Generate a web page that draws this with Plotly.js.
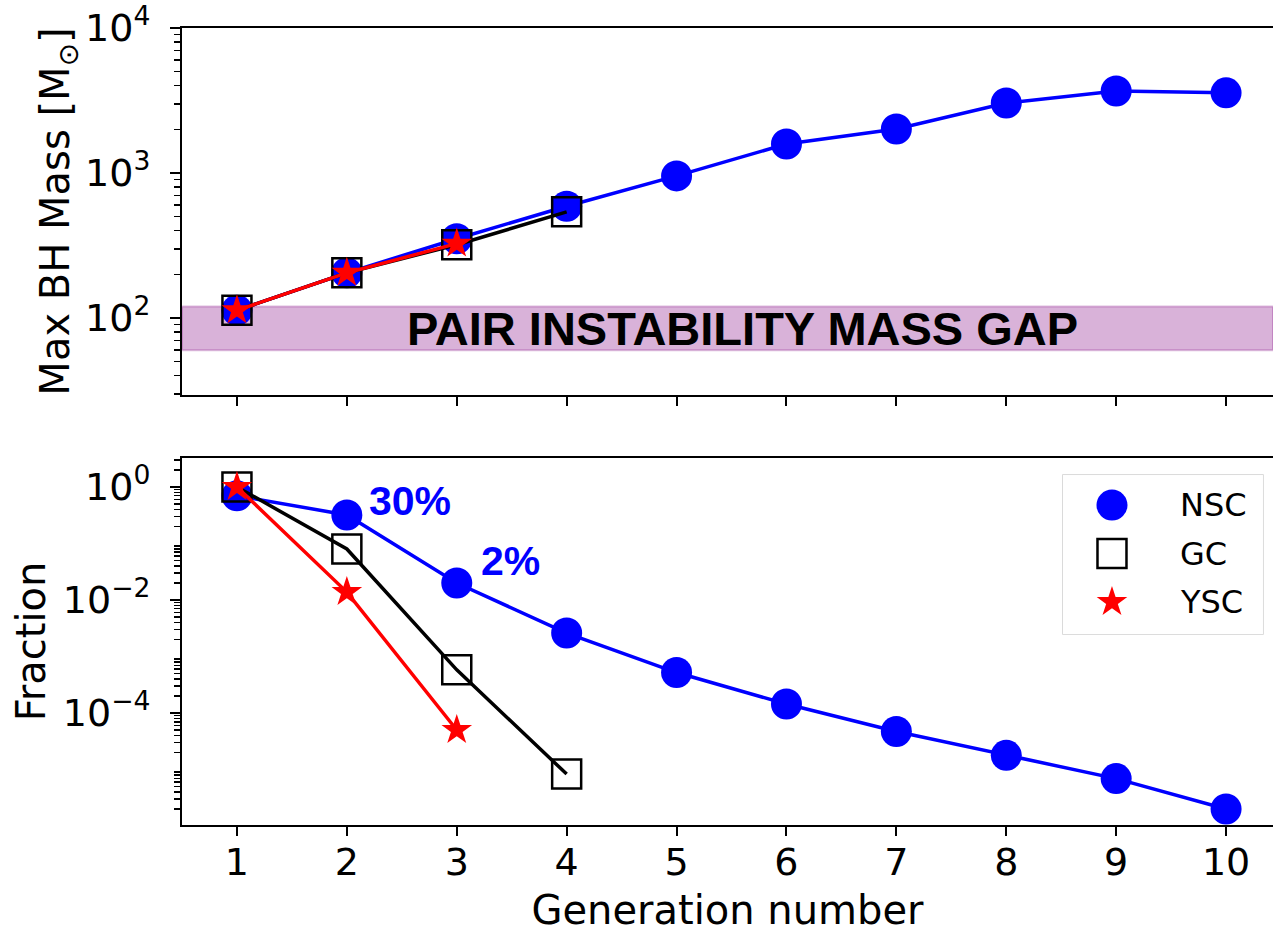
<!DOCTYPE html>
<html>
<head>
<meta charset="utf-8">
<script src="https://cdn.plot.ly/plotly-3.0.1.min.js"></script>
<style>html,body{margin:0;padding:0;background:#fff;}#chart{width:1273px;height:933px;}</style>
</head>
<body>
<div id="chart"></div>
<script>
// ---- data ----
const generations = [1, 2, 3, 4, 5, 6, 7, 8, 9, 10];
const nscMass = [113, 205, 352, 590, 955, 1585, 2010, 3040, 3680, 3570];
const gcMass  = [113, 205, 320, 540];
const yscMass = [113, 205, 326];
const nscFrac = [0.70, 0.32, 0.020, 0.0026, 5.2e-4, 1.44e-4, 4.7e-5, 1.78e-5, 6.9e-6, 2.0e-6];
const gcFrac  = [1.0, 0.080, 5.8e-4, 8.3e-6];
const yscFrac = [1.0, 0.0138, 5.0e-5];
const seriesNames = ['NSC', 'GC', 'YSC'];
const gapLow = 60, gapHigh = 120;
const gapLabel = 'PAIR INSTABILITY MASS GAP';
const fracLabels = ['30%', '2%'];
const massTickVals = [1e2, 1e3, 1e4];
const massTickText = ['10<sup>2</sup>', '10<sup>3</sup>', '10<sup>4</sup>'];
const fracTickVals = [1, 1e-2, 1e-4];
const fracTickText = ['10<sup>0</sup>', '10<sup>−2</sup>', '10<sup>−4</sup>'];

// minor log ticks (2..9 x decade)
function minorTicks(d0, d1) {
  const out = [];
  for (let d = d0; d <= d1; d++) for (let m = 2; m <= 9; m++) out.push(m * Math.pow(10, d));
  return out;
}

const tickFont = {family: 'DejaVu Sans', size: 38, color: '#000'};
const titleFont = {family: 'DejaVu Sans', size: 40, color: '#000'};

const styles = {
  NSC: {line: {color: '#0000ff', width: 3.5}, marker: {symbol: 'circle', size: 31, color: '#0000ff'}},
  GC:  {line: {color: '#000000', width: 3.5}, marker: {symbol: 'square-open', size: 29, color: '#000000', line: {width: 2.5, color: '#000'}}},
  YSC: {line: {color: '#ff0000', width: 3.5}, marker: {symbol: 'star', size: 23, color: '#ff0000', line: {width: 0}}}
};

function tr(name, x, y, xa, ya) {
  return {type: 'scatter', mode: 'lines+markers', name: name, x: x, y: y, xaxis: xa, yaxis: ya,
          line: styles[name].line, marker: styles[name].marker, showlegend: false, cliponaxis: false};
}

const data = [
  tr('NSC', generations, nscMass, 'x2', 'y2'),
  tr('GC', generations.slice(0, gcMass.length), gcMass, 'x2', 'y2'),
  tr('YSC', generations.slice(0, yscMass.length), yscMass, 'x2', 'y2'),
  tr('NSC', generations, nscFrac, 'x', 'y'),
  tr('GC', generations.slice(0, gcFrac.length), gcFrac, 'x', 'y'),
  tr('YSC', generations.slice(0, yscFrac.length), yscFrac, 'x', 'y')
];

// custom legend (markers as in the reference legend)
seriesNames.forEach(n => {
  data.push({type: 'scatter', mode: 'markers', x: [0.245], y: [n], xaxis: 'x3', yaxis: 'y3',
             marker: styles[n].marker, showlegend: false, hoverinfo: 'skip'});
});

const xCommon = {
  range: [0.5, 10.427], tickmode: 'array', tickvals: generations, ticks: 'outside', ticklen: 9,
  tickwidth: 2, tickcolor: '#000', showline: true, linecolor: '#000', linewidth: 2, mirror: true,
  showgrid: false, zeroline: false, tickfont: tickFont, ticklabelstandoff: -7
};

const layout = {
  width: 1273, height: 933,
  margin: {l: 182, r: 0, t: 28, b: 108},
  paper_bgcolor: '#fff', plot_bgcolor: '#fff',
  showlegend: false,
  xaxis: Object.assign({}, xCommon, {domain: [0, 1], anchor: 'y',
    title: {text: 'Generation number', font: titleFont, standoff: 14}}),
  xaxis2: Object.assign({}, xCommon, {domain: [0, 1], anchor: 'y2', matches: 'x', showticklabels: false}),
  yaxis: {
    domain: [0, 0.4605], anchor: 'x', type: 'log', range: [-5.982, 0.513],
    tickmode: 'array', tickvals: fracTickVals, ticktext: fracTickText,
    ticks: 'outside', ticklen: 10, tickwidth: 2, tickcolor: '#000',
    minor: {tickmode: 'array', tickvals: minorTicks(-7, 0), ticks: 'outside', ticklen: 6, tickwidth: 1.5, tickcolor: '#000'},
    showline: true, linecolor: '#000', linewidth: 2, mirror: false, showgrid: false, zeroline: false,
    tickfont: tickFont, ticklabelstandoff: 12,
    title: {text: 'Fraction', font: titleFont, standoff: 5}
  },
  yaxis2: {
    domain: [0.5395, 1], anchor: 'x2', type: 'log', range: [1.469, 4],
    tickmode: 'array', tickvals: massTickVals, ticktext: massTickText,
    ticks: 'outside', ticklen: 10, tickwidth: 2, tickcolor: '#000',
    minor: {tickmode: 'array', tickvals: minorTicks(1, 3), ticks: 'outside', ticklen: 6, tickwidth: 1.5, tickcolor: '#000'},
    showline: true, linecolor: '#000', linewidth: 2, mirror: false, showgrid: false, zeroline: false,
    tickfont: tickFont, ticklabelstandoff: 12,
    title: {text: 'Max BH Mass [M<sub>⊙</sub>]', font: titleFont, standoff: 3}
  },
  xaxis3: {domain: [0.8075, 0.9908], anchor: 'y3', range: [0, 1], visible: false, fixedrange: true},
  yaxis3: {domain: [0.2396, 0.4391], anchor: 'x3', type: 'category', categoryarray: seriesNames,
           range: [2.66, -0.62], visible: false, fixedrange: true},
  shapes: [
    {type: 'rect', xref: 'x2 domain', x0: 0, x1: 1, yref: 'y2', y0: gapLow, y1: gapHigh,
     fillcolor: 'rgba(128,0,128,0.3)', line: {color: 'rgba(128,0,128,0.25)', width: 2}, layer: 'below'},
    {type: 'rect', xref: 'x3 domain', x0: 0, x1: 1, yref: 'y3 domain', y0: 0, y1: 1,
     fillcolor: 'rgba(255,255,255,0.8)', line: {color: '#d0d0d0', width: 1.5}, layer: 'below'}
  ],
  annotations: [
    {xref: 'x2', yref: 'y2', x: 5.604, y: Math.log10(Math.sqrt(gapLow * gapHigh)), text: gapLabel,
     showarrow: false, font: {family: 'Liberation Sans', size: 47, color: '#000', weight: 'bold'}},
    {xref: 'x', yref: 'y', x: 2.574, y: -0.248, text: fracLabels[0], showarrow: false,
     font: {family: 'Liberation Sans', size: 41, color: '#0000ff', weight: 'bold'}},
    {xref: 'x', yref: 'y', x: 3.493, y: -1.31, text: fracLabels[1], showarrow: false,
     font: {family: 'Liberation Sans', size: 41, color: '#0000ff', weight: 'bold'}}
  ].concat(seriesNames.map(n => ({
    xref: 'x3', yref: 'y3', x: 0.575, y: n, text: n, xanchor: 'left', showarrow: false,
    font: {family: 'DejaVu Sans', size: 32, color: '#000'}
  })))
};

Plotly.newPlot('chart', data, layout, {displayModeBar: false, staticPlot: true});
</script>
</body>
</html>
